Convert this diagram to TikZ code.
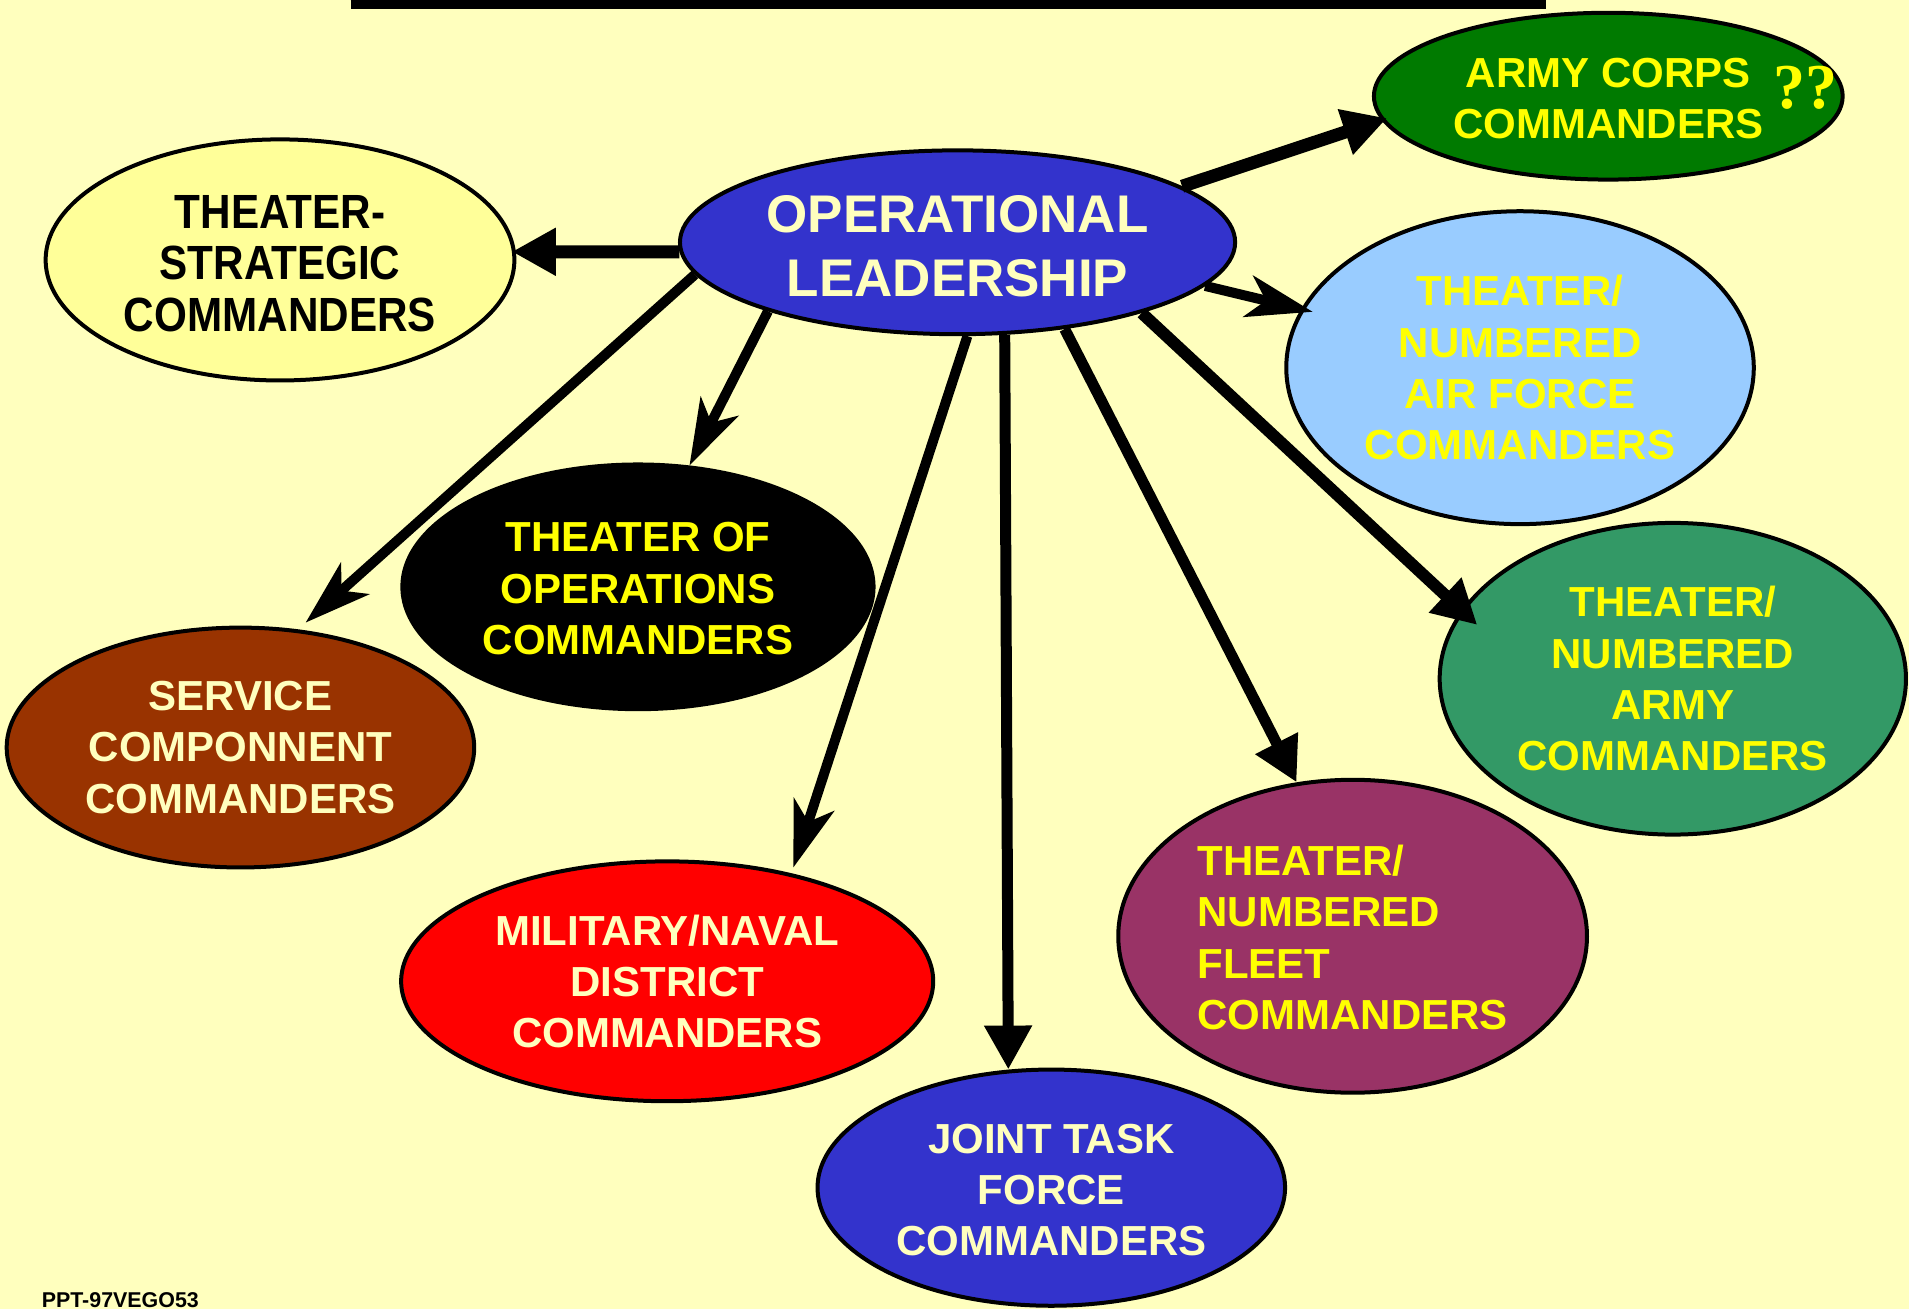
\documentclass[tikz,border=0pt]{standalone}
\usepackage{fontspec}
\setmainfont{Liberation Sans}
\newfontfamily\serifq{Liberation Serif}
\newfontfamily\narrowsans{Liberation Sans}[FakeStretch=0.88]
\usetikzlibrary{shapes.geometric,arrows.meta}
\definecolor{bg}{RGB}{255,255,190}
\definecolor{cream}{RGB}{255,255,190}
\definecolor{ylw}{RGB}{255,255,0}
\definecolor{olblue}{RGB}{51,51,204}
\definecolor{acgreen}{RGB}{0,122,0}
\definecolor{tsfill}{RGB}{255,255,153}
\definecolor{affill}{RGB}{153,204,255}
\definecolor{scfill}{RGB}{153,51,0}
\definecolor{arfill}{RGB}{51,153,102}
\definecolor{mnfill}{RGB}{255,0,0}
\definecolor{flfill}{RGB}{153,51,102}
\begin{document}
\begin{tikzpicture}[x=0.60875pt,y=-0.60875pt,
  ell/.style n args={4}{ellipse, draw=black, line width=2pt, inner sep=0pt,
    minimum width={(2*#1-3)*0.60875pt}, minimum height={(2*#2-3)*0.60875pt},
    fill=#3, text=#4, align=center, font=\fontsize{21}{25.6}\selectfont\bfseries},
  tri/.style={-{Triangle[length=22pt,width=22.5pt]}},
  stl/.style={-{Stealth[length=33pt,width=21pt,inset=9pt]}}]
\path[use as bounding box, fill=bg] (0,0) rectangle (1568,1075);
\draw[line width=4.5pt] (288,3.7) -- (1270,3.7);

\node[ell={229.5}{77}{olblue}{cream}, font=\fontsize{26.5}{31.7}\selectfont\bfseries] (ol) at (786.5,199) {\rule{0pt}{22.6pt}OPERATIONAL\\LEADERSHIP};
\node[ell={194}{70}{acgreen}{ylw}] (ac) at (1321,79) {\rule{0pt}{17pt}ARMY CORPS\\COMMANDERS};
\node[text=ylw, inner sep=0pt, font=\serifq\bfseries\fontsize{32}{32}\selectfont] (qq) at (1483,72) {??};
\node[ell={194}{100.5}{tsfill}{black}, font=\narrowsans\bfseries\fontsize{24}{25.6}\selectfont] (ts) at (230,213.5)
  {\rule{0pt}{20.2pt}THEATER-\\STRATEGIC\\COMMANDERS};
\node[ell={193.5}{130}{affill}{ylw}] (af) at (1248.5,302) {THEATER/\\NUMBERED\\AIR FORCE\\COMMANDERS};
\node[ell={195}{102}{black}{ylw}] (too) at (524,482) {\rule{0pt}{16.5pt}THEATER OF\\OPERATIONS\\COMMANDERS};
\node[ell={193.5}{100}{scfill}{cream}] (sc) at (197.5,614) {SERVICE\\COMPONNENT\\COMMANDERS};
\node[ell={193}{129.5}{arfill}{ylw}] (ar) at (1374,557.5) {THEATER/\\NUMBERED\\ARMY\\COMMANDERS};
\node[ell={220}{100}{mnfill}{cream}] (mn) at (548,806) {MILITARY/NAVAL\\DISTRICT\\COMMANDERS};
\node[ell={194}{130}{flfill}{ylw}, align=left] (fl) at (1111,769) {\rule{0pt}{16.5pt}THEATER/\\NUMBERED\\FLEET\\COMMANDERS};
\node[ell={193.5}{98.5}{olblue}{cream}] (jtf) at (863.5,975.5) {\rule{0pt}{17.3pt}JOINT TASK\\FORCE\\COMMANDERS};

\node[anchor=base west, inner sep=0pt, font=\fontsize{10.7}{12}\selectfont\bfseries] (foot) at (34,1074) {PPT-97VEGO53};

\draw[tri, line width=6.5pt, shorten >=-2pt] (ol.182) -- (ts.2);
\draw[tri, line width=6.5pt, shorten >=-3pt] (ol.14) -- (ac.186);
\draw[stl, line width=5pt, shorten >=-6pt] (ol.350) -- (af.165);
\draw[tri, line width=6pt, shorten >=-11pt] (ol.339) -- (ar.162);
\draw[tri, line width=5.5pt] (ol.321.4) -- (fl.110.5);
\draw[tri, line width=5.5pt] (ol.297.2) -- (jtf.110.65);
\draw[stl, line width=5pt, shorten >=3pt] (ol.276.9) -- (mn.41);
\draw[stl, line width=5pt] (ol.200) -- (too.67.1);
\draw[stl, line width=5pt, shorten >=5pt] (ol.187.7) -- (sc.64.5);
\end{tikzpicture}
\end{document}
